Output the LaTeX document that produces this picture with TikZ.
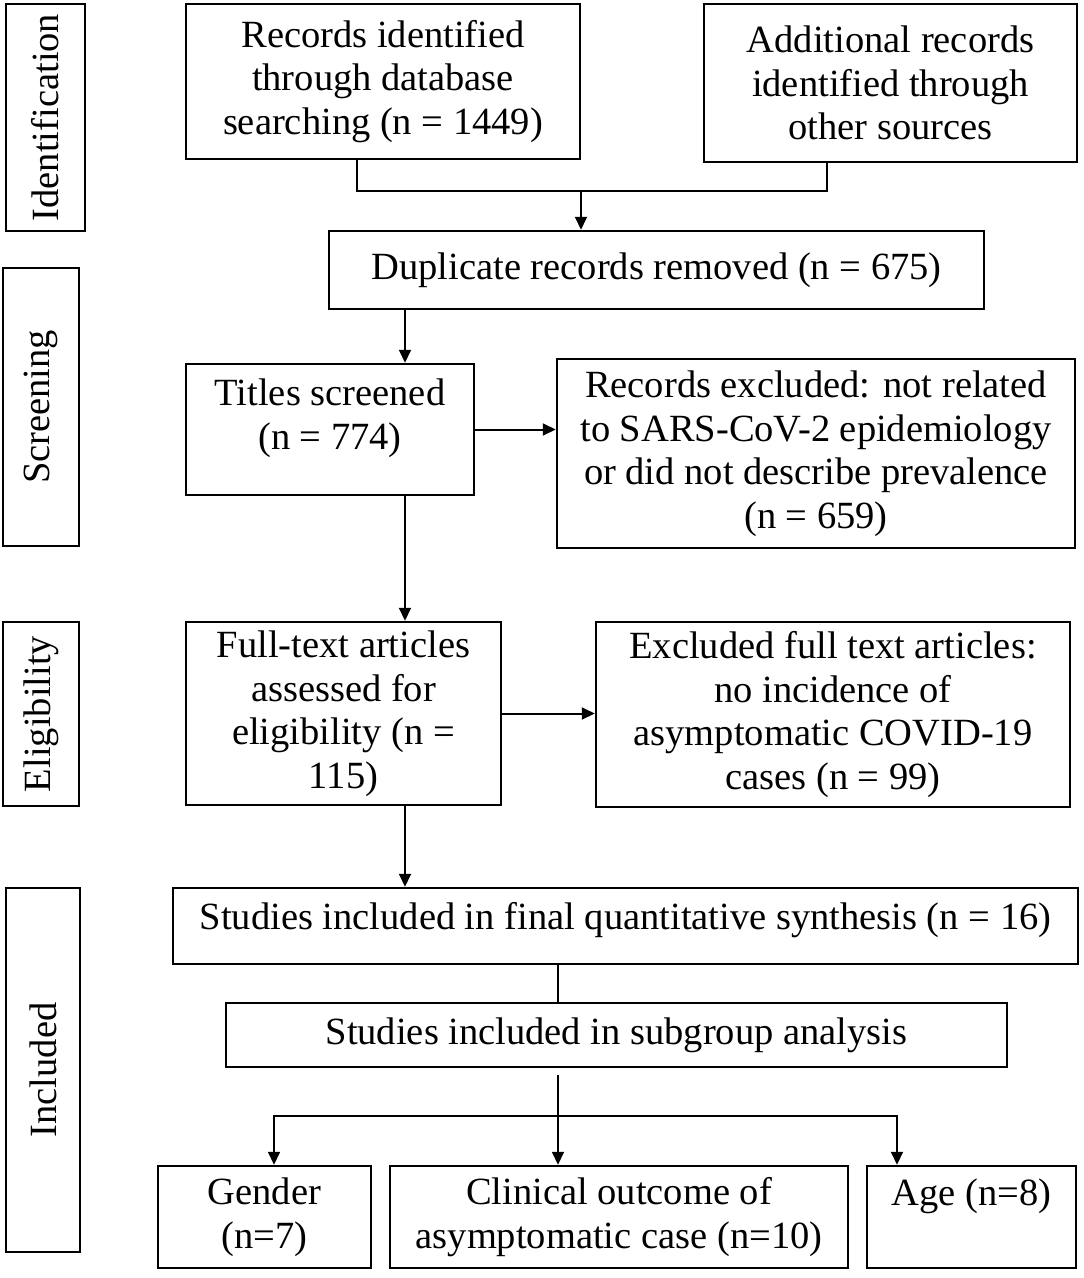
\documentclass[tikz,border=0pt]{standalone}
\usepackage{fontspec}
\setmainfont{Liberation Serif}
\usetikzlibrary{arrows.meta}
\newcommand\dn[1]{\rule[-#1]{0pt}{#1}}
\begin{document}
\begin{tikzpicture}[x=1pt,y=-1pt,
  box/.style={draw=black, line width=2.5pt, rectangle, align=center, inner sep=0pt,
    font=\fontsize{38.5}{43.5}\selectfont},
  lab/.style={box, rotate=90},
  arr/.style={line width=2pt, -{Triangle[length=13pt,width=12pt]}},
  ln/.style={line width=2pt}]
\useasboundingbox[fill=white] (0,0) rectangle (1084,1278);
% stage labels
\node[lab, minimum width=227pt, minimum height=79pt] (ident) at (45.5,117.5) {Identification};
\node[lab, minimum width=278pt, minimum height=76pt] (scr) at (41,407) {Screening};
\node[lab, minimum width=184pt, minimum height=76pt] (elig) at (41,714) {Eligibility};
\node[lab, minimum width=364pt, minimum height=74pt] (incl) at (43,1070) {Included};
% boxes
\node[box, minimum width=394pt, minimum height=155pt] (rec) at (383,81.5) {Records identified\\through database\\searching (n = 1449)};
\node[box, minimum width=373pt, minimum height=158pt] (add) at (890.5,83) {Additional records\\identified through\\other sources};
\node[box, minimum width=655pt, minimum height=78pt] (dup) at (656.5,270) {Duplicate records removed (n = 675)};
\node[box, minimum width=288pt, minimum height=131pt] (titles) at (330,429.5) {Titles screened\\(n = 774)\dn{31pt}};
\node[box, minimum width=518pt, minimum height=189pt] (recex) at (816,453.5) {Records excluded: not related\\to SARS-CoV-2 epidemiology\\or did not describe prevalence\\(n = 659)};
\node[box, minimum width=315pt, minimum height=183pt] (full) at (343.5,713.5) {Full-text articles\\assessed for\\eligibility (n =\\115)};
\node[box, minimum width=474pt, minimum height=185pt] (exfull) at (833,714.5) {Excluded full text articles:\\no incidence of\\asymptomatic COVID-19\\cases (n = 99)};
\node[box, minimum width=905pt, minimum height=76pt] (final) at (625.5,926) {Studies included in final quantitative synthesis (n = 16)\dn{20pt}};
\node[box, minimum width=781pt, minimum height=64pt] (sub) at (616.5,1035) {Studies included in subgroup analysis};
\node[box, minimum width=213pt, minimum height=102pt] (gender) at (264.5,1217) {Gender\\(n=7)};
\node[box, minimum width=458pt, minimum height=102pt] (clin) at (619,1217) {Clinical outcome of\\asymptomatic case (n=10)};
\node[box, minimum width=209pt, minimum height=102pt] (age) at (971.5,1217) {Age (n=8)\dn{49pt}};
% axis coordinates
\coordinate (j) at (581,191);
\coordinate (ax) at (405,0);
\coordinate (bx) at (558,0);
\coordinate (hb) at (558,1116);
\coordinate (gx) at (274,0);
\coordinate (agx) at (897,0);
% connectors
\draw[ln] ([xshift=-26pt]rec.south) |- (j) -| ([xshift=-63.5pt]add.south);
\draw[arr] (j) -- (j |- dup.north);
\draw[arr] (dup.south -| ax) -- (titles.north -| ax);
\draw[arr] (titles.east) -- (titles.east -| recex.west);
\draw[arr] (titles.south -| ax) -- (full.north -| ax);
\draw[arr] (full.east) -- (full.east -| exfull.west);
\draw[arr] (full.south -| ax) -- (final.north -| ax);
\draw[ln] (final.south -| bx) -- (sub.north -| bx);
\draw[arr] ([yshift=-7pt]sub.south -| bx) -- (clin.north -| bx);
\draw[arr] (hb) -| (gender.north -| gx);
\draw[arr] (hb) -| (age.north -| agx);
\end{tikzpicture}
\end{document}
